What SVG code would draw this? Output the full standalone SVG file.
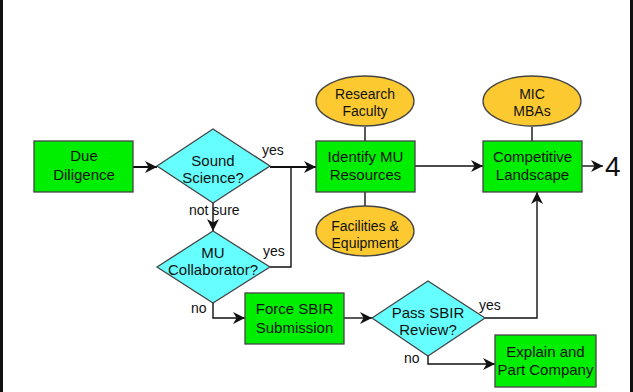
<svg xmlns="http://www.w3.org/2000/svg" width="633" height="392" viewBox="0 0 633 392">
  <style>
    .box { fill: #00ee00; stroke: #444; stroke-width: 1.3; }
    .dia { fill: #66ffff; stroke: #444; stroke-width: 1.3; }
    .ell { fill: #fcca30; stroke: #444; stroke-width: 1.3; }
    .t { font-family: "Liberation Sans", Arial, sans-serif; font-size: 15px; fill: #111; text-anchor: middle; }
    .te { font-family: "Liberation Sans", Arial, sans-serif; font-size: 14px; fill: #111; text-anchor: middle; }
    .lbl { font-family: "Liberation Sans", Arial, sans-serif; font-size: 14px; fill: #111; }
    .ln { fill: none; stroke: #111; stroke-width: 1.4; }
    .lnb { fill: none; stroke: #111; stroke-width: 2; }
  </style>
  <defs>
    <marker id="arr" viewBox="0 0 10 10" refX="10" refY="5" markerWidth="12" markerHeight="12" markerUnits="userSpaceOnUse" orient="auto">
      <path d="M0,0 L10,5 L0,10 L3,5 Z" fill="#111"/>
    </marker>
  </defs>

  <rect x="0" y="0" width="633" height="392" fill="#fff"/>
  <!-- side bars -->
  <rect x="0" y="0" width="3" height="392" fill="#111"/>
  <rect x="630" y="0" width="3" height="392" fill="#111"/>

  <g id="connectors">
    <line class="lnb" x1="133" y1="167" x2="157" y2="167" marker-end="url(#arr)"/>
    <line class="lnb" x1="270" y1="167" x2="316" y2="167" marker-end="url(#arr)"/>
    <polyline class="ln" points="270,267 291,267 291,167"/>
    <line class="ln" x1="213" y1="203" x2="213" y2="231" marker-end="url(#arr)"/>
    <polyline class="ln" points="213,303 213,318 245,318" marker-end="url(#arr)"/>
    <line class="ln" x1="344" y1="318" x2="372" y2="318" marker-end="url(#arr)"/>
    <polyline class="ln" points="485,318 537,318 537,192" marker-end="url(#arr)"/>
    <polyline class="ln" points="428,356 428,364 495,364" marker-end="url(#arr)"/>
    <line class="ln" x1="415" y1="166" x2="483" y2="166" marker-end="url(#arr)"/>
    <line class="ln" x1="582" y1="166" x2="603" y2="166" marker-end="url(#arr)"/>
    <line class="ln" x1="365" y1="127" x2="365" y2="141"/>
    <line class="ln" x1="365" y1="192" x2="365" y2="206"/>
    <line class="ln" x1="532" y1="127" x2="532" y2="141"/>
  </g>

  <g id="due-diligence">
    <rect class="box" x="34" y="141" width="99" height="51"/>
    <text class="t" x="84" y="161">Due</text>
    <text class="t" x="84" y="180">Diligence</text>
  </g>

  <g id="sound-science">
    <polygon class="dia" points="157,166 213,129 270,166 213,203"/>
    <text class="t" x="213" y="166">Sound</text>
    <text class="t" x="213" y="183">Science?</text>
  </g>

  <g id="mu-collaborator">
    <polygon class="dia" points="157,267 213,231 270,267 213,303"/>
    <text class="t" x="213" y="258">MU</text>
    <text class="t" x="213" y="275">Collaborator?</text>
  </g>

  <g id="identify-resources">
    <rect class="box" x="316" y="141" width="99" height="51"/>
    <text class="t" x="365.5" y="162">Identify MU</text>
    <text class="t" x="365.5" y="180">Resources</text>
  </g>

  <g id="research-faculty">
    <ellipse class="ell" cx="365" cy="101" rx="49" ry="25"/>
    <text class="te" x="365" y="99">Research</text>
    <text class="te" x="365" y="115.5">Faculty</text>
  </g>

  <g id="facilities-equipment">
    <ellipse class="ell" cx="365" cy="231" rx="49" ry="25"/>
    <text class="te" x="365" y="231">Facilities &amp;</text>
    <text class="te" x="365" y="247.5">Equipment</text>
  </g>

  <g id="competitive-landscape">
    <rect class="box" x="483" y="141" width="99" height="51"/>
    <text class="t" x="532.5" y="162">Competitive</text>
    <text class="t" x="532.5" y="180">Landscape</text>
  </g>

  <g id="mic-mbas">
    <ellipse class="ell" cx="532" cy="101" rx="49" ry="25"/>
    <text class="te" x="532" y="99">MIC</text>
    <text class="te" x="532" y="115.5">MBAs</text>
  </g>

  <g id="force-sbir">
    <rect class="box" x="245" y="293" width="99" height="51"/>
    <text class="t" x="294.5" y="314">Force SBIR</text>
    <text class="t" x="294.5" y="333">Submission</text>
  </g>

  <g id="pass-sbir">
    <polygon class="dia" points="372,318 428,281 485,318 428,356"/>
    <text class="t" x="428" y="318">Pass SBIR</text>
    <text class="t" x="428" y="335">Review?</text>
  </g>

  <g id="explain-part">
    <rect class="box" x="495" y="335" width="101" height="52"/>
    <text class="t" x="545.5" y="357">Explain and</text>
    <text class="t" x="545.5" y="375">Part Company</text>
  </g>

  <g id="next-step">
    <text class="lbl" x="605" y="176" style="font-size:28px">4</text>
  </g>

  <g id="edge-labels">
    <text class="lbl" x="262" y="155">yes</text>
    <text class="lbl" x="189" y="215">not sure</text>
    <text class="lbl" x="263" y="256">yes</text>
    <text class="lbl" x="191" y="313">no</text>
    <text class="lbl" x="479" y="310">yes</text>
    <text class="lbl" x="404" y="363">no</text>
  </g>
</svg>
